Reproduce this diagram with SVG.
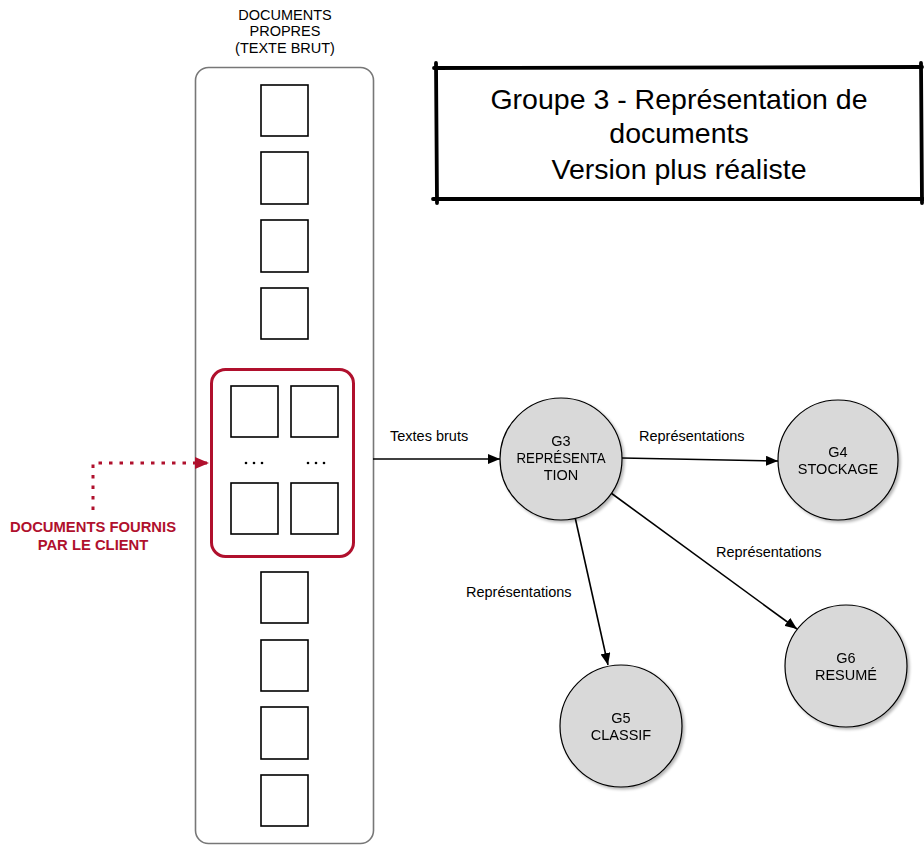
<svg xmlns="http://www.w3.org/2000/svg" width="924" height="845" viewBox="0 0 924 845">
  <style>
    text { font-family: "Liberation Sans", Arial, sans-serif; fill: #000; }
    .lbl { font-size: 14.5px; }
    .nlbl { font-size: 14.5px; }
    .mid { text-anchor: middle; }
    .doc { fill: #fff; stroke: #000; stroke-width: 1.6; }
    .node { fill: #d9d9d9; stroke: #000; stroke-width: 1.2; }
    .edge { fill: none; stroke: #000; stroke-width: 1.6; }
    .title-edge { stroke: #000; stroke-width: 3.8; stroke-linecap: round; }
    .red-lbl { fill: #b0102d; font-size: 14.8px; font-weight: bold; text-anchor: middle; }
  </style>
  <defs>
    <marker id="arrow" viewBox="0 0 12 10" refX="12" refY="5" markerWidth="12" markerHeight="10" markerUnits="userSpaceOnUse" orient="auto">
      <path d="M0,0 L12,5 L0,10 Z" fill="#000"/>
    </marker>
    <marker id="arrow-red" viewBox="0 0 14 12" refX="14" refY="6" markerWidth="14" markerHeight="12" markerUnits="userSpaceOnUse" orient="auto">
      <path d="M0,0 L14,6 L0,12 Z" fill="#b0102d"/>
    </marker>
    <filter id="shadow" x="-20%" y="-20%" width="150%" height="150%">
      <feGaussianBlur in="SourceAlpha" stdDeviation="1.5"/>
      <feOffset dx="2" dy="2"/>
      <feComponentTransfer><feFuncA type="linear" slope="0.3"/></feComponentTransfer>
      <feMerge><feMergeNode/><feMergeNode in="SourceGraphic"/></feMerge>
    </filter>
  </defs>

  <!-- column of cleaned documents -->
  <g id="documents">
    <text class="lbl mid" x="285" y="20">DOCUMENTS</text>
    <text class="lbl mid" x="285" y="36">PROPRES</text>
    <text class="lbl mid" x="285" y="53">(TEXTE BRUT)</text>
    <rect x="195.5" y="67.5" width="178" height="776" rx="13" fill="#fff" stroke="#777" stroke-width="1.6"/>
    <rect class="doc" x="261" y="85" width="47" height="51"/>
    <rect class="doc" x="261" y="152" width="47" height="52"/>
    <rect class="doc" x="261" y="220" width="47" height="52"/>
    <rect class="doc" x="261" y="288" width="47" height="51"/>
    <rect class="doc" x="261" y="572" width="47" height="51"/>
    <rect class="doc" x="261" y="640" width="47" height="51"/>
    <rect class="doc" x="261" y="707" width="47" height="52"/>
    <rect class="doc" x="261" y="775" width="47" height="51"/>
  </g>

  <!-- client-provided documents -->
  <g id="client-docs">
    <rect x="211.5" y="369.5" width="142" height="187" rx="14" fill="#fff" stroke="#b0102d" stroke-width="3"/>
    <rect class="doc" x="231" y="386" width="47" height="51"/>
    <rect class="doc" x="291" y="386" width="47" height="51"/>
    <rect class="doc" x="231" y="483" width="47" height="51"/>
    <rect class="doc" x="291" y="483" width="47" height="51"/>
    <g fill="#000">
      <circle cx="246" cy="463" r="1.3"/><circle cx="254" cy="463" r="1.3"/><circle cx="262" cy="463" r="1.3"/>
      <circle cx="308" cy="463" r="1.3"/><circle cx="316" cy="463" r="1.3"/><circle cx="324" cy="463" r="1.3"/>
    </g>
  </g>

  <g id="client-label">
    <text class="red-lbl" x="93" y="532">DOCUMENTS FOURNIS</text>
    <text class="red-lbl" x="93" y="550">PAR LE CLIENT</text>
  </g>

  <!-- title -->
  <g id="title">
    <line class="title-edge" x1="436" y1="63" x2="437" y2="203"/>
    <line class="title-edge" x1="434" y1="68" x2="922" y2="67"/>
    <line class="title-edge" x1="921" y1="63" x2="922" y2="203"/>
    <line class="title-edge" x1="433" y1="199" x2="923" y2="199"/>
    <text class="mid" x="679" y="109" font-size="28.5">Groupe 3 - Représentation de</text>
    <text class="mid" x="679" y="143" font-size="28.5">documents</text>
    <text class="mid" x="679" y="179" font-size="28.5">Version plus réaliste</text>
  </g>

  <!-- connectors -->
  <g id="connectors">
    <path d="M93,510 L93,463 L209,463" fill="none" stroke="#b0102d" stroke-width="3" stroke-dasharray="3.5 7" marker-end="url(#arrow-red)"/>
    <line class="edge" x1="373" y1="459" x2="500" y2="459" marker-end="url(#arrow)"/>
    <text class="lbl" x="390" y="441">Textes bruts</text>
    <line class="edge" x1="622" y1="458" x2="778" y2="461" marker-end="url(#arrow)"/>
    <text class="lbl" x="639" y="441">Représentations</text>
    <line class="edge" x1="575" y1="517" x2="608" y2="665" marker-end="url(#arrow)"/>
    <text class="lbl" x="466" y="597">Représentations</text>
    <line class="edge" x1="611" y1="493" x2="797" y2="629" marker-end="url(#arrow)"/>
    <text class="lbl" x="716" y="557">Représentations</text>
  </g>

  <!-- processing groups -->
  <g id="g3" filter="url(#shadow)">
    <circle class="node" cx="561" cy="459" r="61"/>
    <text class="nlbl mid" x="561" y="446">G3</text>
    <text class="nlbl mid" x="561" y="463" textLength="89" lengthAdjust="spacingAndGlyphs">REPRÉSENTA</text>
    <text class="nlbl mid" x="561" y="480">TION</text>
  </g>
  <g id="g4" filter="url(#shadow)">
    <circle class="node" cx="838" cy="460" r="60"/>
    <text class="nlbl mid" x="838" y="457">G4</text>
    <text class="nlbl mid" x="838" y="474">STOCKAGE</text>
  </g>
  <g id="g5" filter="url(#shadow)">
    <circle class="node" cx="621" cy="726" r="61"/>
    <text class="nlbl mid" x="621" y="723">G5</text>
    <text class="nlbl mid" x="621" y="740">CLASSIF</text>
  </g>
  <g id="g6" filter="url(#shadow)">
    <circle class="node" cx="846" cy="666" r="61"/>
    <text class="nlbl mid" x="846" y="663">G6</text>
    <text class="nlbl mid" x="846" y="680">RESUMÉ</text>
  </g>
</svg>
